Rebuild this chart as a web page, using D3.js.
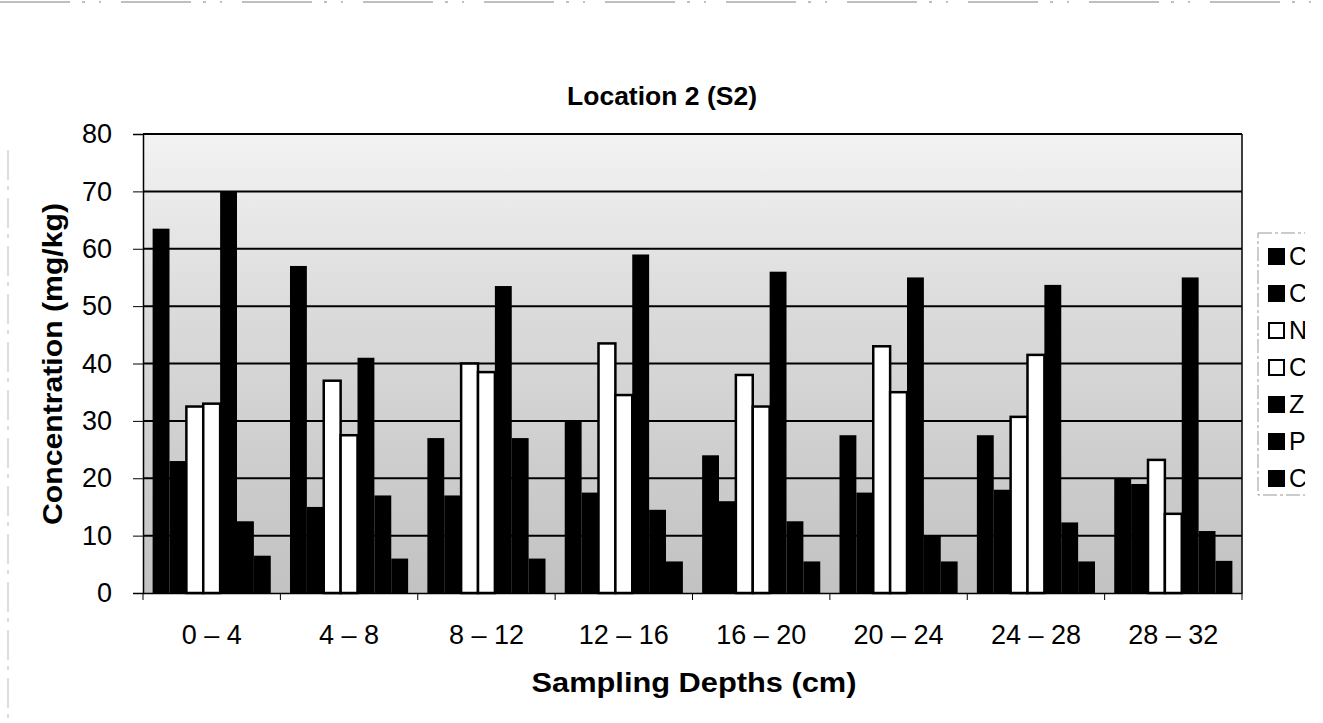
<!DOCTYPE html>
<html>
<head>
<meta charset="utf-8">
<script src="https://cdn.jsdelivr.net/npm/d3@7"></script>
<style>
  body { margin: 0; background: #fff; }
  svg { display: block; font-family: "Liberation Sans", Arial, sans-serif; }
</style>
</head>
<body>
<script>
// data
var depths = ["0 – 4", "4 – 8", "8 – 12", "12 – 16", "16 – 20", "20 – 24", "24 – 28", "28 – 32"];
var metals = ["Cr", "Cu", "Ni", "Co", "Zn", "Pb", "Cd"];
var metalFill = ["#000", "#000", "#fff", "#fff", "#000", "#000", "#000"];
var cr = [63.5, 57, 27, 30, 24, 27.5, 27.5, 20];
var cu = [23, 15, 17, 17.5, 16, 17.5, 18, 19];
var ni = [32.5, 37, 40, 43.5, 38, 43, 30.7, 23.2];
var co = [33, 27.5, 38.5, 34.5, 32.5, 35, 41.5, 13.8];
var zn = [70, 41, 53.5, 59, 56, 55, 53.7, 55];
var pb = [12.5, 17, 27, 14.5, 12.5, 10, 12.3, 10.8];
var cd = [6.5, 6, 6, 5.5, 5.5, 5.5, 5.5, 5.6];
var yTicks = [0, 10, 20, 30, 40, 50, 60, 70, 80];

var series = [cr, cu, ni, co, zn, pb, cd];

var width = 1323, height = 723;
var margin = {top: 134, right: 81, bottom: 130, left: 143};
var innerW = width - margin.left - margin.right;
var innerH = height - margin.top - margin.bottom;

var svg = d3.select("body").append("svg")
    .attr("width", width)
    .attr("height", height);

// faint outer chart border
svg.append("line")
    .attr("x1", 0).attr("x2", width).attr("y1", 2).attr("y2", 2)
    .attr("stroke", "#aaa").attr("stroke-width", 1.5)
    .attr("stroke-dasharray", "70,12,3,14,2,20");
svg.append("line")
    .attr("x1", 8).attr("x2", 8).attr("y1", 150).attr("y2", height)
    .attr("stroke", "#bbb").attr("stroke-width", 1)
    .attr("stroke-dasharray", "30,6,4,8");

var defs = svg.append("defs");
var grad = defs.append("linearGradient")
    .attr("id", "bg").attr("x1", 0).attr("x2", 0).attr("y1", 0).attr("y2", 1);
grad.append("stop").attr("offset", "0%").attr("stop-color", "#f3f3f3");
grad.append("stop").attr("offset", "40%").attr("stop-color", "#dadada");
grad.append("stop").attr("offset", "100%").attr("stop-color", "#c2c2c2");
defs.append("clipPath").attr("id", "legclip")
    .append("rect").attr("x", 1240).attr("y", 200).attr("width", 65).attr("height", 320);

var g = svg.append("g")
    .attr("transform", "translate(" + margin.left + "," + margin.top + ")");

var x0 = d3.scaleBand()
    .domain(depths)
    .range([0, innerW])
    .paddingInner(0.14)
    .paddingOuter(0.07);

var x1 = d3.scaleBand()
    .domain(metals)
    .range([0, x0.bandwidth()]);

var y = d3.scaleLinear()
    .domain([0, 80])
    .range([innerH, 0]);

g.append("rect")
    .attr("width", innerW).attr("height", innerH)
    .attr("fill", "url(#bg)");

// gridlines
g.selectAll(".grid").data(yTicks.slice(1))
    .enter().append("line")
    .attr("class", "grid")
    .attr("x1", 0).attr("x2", innerW)
    .attr("y1", function(d) { return y(d); })
    .attr("y2", function(d) { return y(d); })
    .attr("stroke", "#000").attr("stroke-width", 2);

g.append("line")
    .attr("x1", innerW).attr("x2", innerW).attr("y1", 0).attr("y2", innerH)
    .attr("stroke", "#000").attr("stroke-width", 1.5);

// bars
var groups = g.selectAll(".grp").data(depths)
    .enter().append("g")
    .attr("class", "grp")
    .attr("transform", function(d) { return "translate(" + x0(d) + ",0)"; });

groups.selectAll("rect")
    .data(function(d, i) {
        return metals.map(function(m, j) { return {metal: m, j: j, value: series[j][i]}; });
    })
    .enter().append("rect")
    .attr("x", function(d) { return x1(d.metal); })
    .attr("y", function(d) { return y(d.value); })
    .attr("width", x1.bandwidth())
    .attr("height", function(d) { return innerH - y(d.value); })
    .attr("fill", function(d) { return metalFill[d.j]; })
    .attr("stroke", function(d) { return metalFill[d.j] === "#fff" ? "#000" : "none"; })
    .attr("stroke-width", 2.5);

// axes
var xAxis = d3.axisBottom(x0).tickSize(0).tickPadding(32);
var xg = g.append("g")
    .attr("transform", "translate(0," + innerH + ")")
    .call(xAxis);
xg.select(".domain").attr("stroke", "#000").attr("stroke-width", 1.5);
xg.selectAll("text").attr("font-size", "27px").attr("fill", "#000")
    .attr("font-family", "Liberation Sans, Arial, sans-serif");

// ticks between categories
var step = x0.step();
xg.selectAll(".sep").data(d3.range(depths.length + 1))
    .enter().append("line")
    .attr("class", "sep")
    .attr("x1", function(i) { return Math.min(i * step, innerW); })
    .attr("x2", function(i) { return Math.min(i * step, innerW); })
    .attr("y1", 0).attr("y2", 7)
    .attr("stroke", "#000");

var yAxis = d3.axisLeft(y).tickValues(yTicks).tickSize(10).tickPadding(21);
var yg = g.append("g").call(yAxis);
yg.select(".domain").attr("stroke", "#000").attr("stroke-width", 1.5);
yg.selectAll("text").attr("font-size", "27px").attr("fill", "#000")
    .attr("font-family", "Liberation Sans, Arial, sans-serif");

// title and axis labels
svg.append("text")
    .attr("x", 662).attr("y", 105)
    .attr("text-anchor", "middle")
    .attr("font-size", "26.5px").attr("font-weight", "bold")
    .text("Location 2 (S2)");

svg.append("text")
    .attr("x", 694).attr("y", 692)
    .attr("text-anchor", "middle")
    .attr("font-size", "27px").attr("font-weight", "bold")
    .attr("textLength", 325).attr("lengthAdjust", "spacingAndGlyphs")
    .text("Sampling Depths (cm)");

svg.append("text")
    .attr("transform", "translate(62,364) rotate(-90)")
    .attr("text-anchor", "middle")
    .attr("font-size", "27px").attr("font-weight", "bold")
    .attr("textLength", 322).attr("lengthAdjust", "spacingAndGlyphs")
    .text("Concentration (mg/kg)");

// legend (cut off at the chart edge, as in the picture)
var legend = svg.append("g").attr("clip-path", "url(#legclip)")
    .append("g").attr("transform", "translate(1258,233)");
legend.append("rect")
    .attr("width", 120).attr("height", 262)
    .attr("fill", "#fff").attr("stroke", "#999")
    .attr("stroke-dasharray", "14,3,3,3");
var items = legend.selectAll(".item").data(metals)
    .enter().append("g")
    .attr("class", "item")
    .attr("transform", function(d, i) { return "translate(0," + (23 + i * 37) + ")"; });
items.append("rect")
    .attr("x", 11).attr("y", -7).attr("width", 15).attr("height", 15)
    .attr("fill", function(d, i) { return metalFill[i]; })
    .attr("stroke", "#000").attr("stroke-width", 2);
items.append("text")
    .attr("x", 31).attr("y", 9)
    .attr("font-size", "25px")
    .text(function(d) { return d; });
</script>
</body>
</html>
